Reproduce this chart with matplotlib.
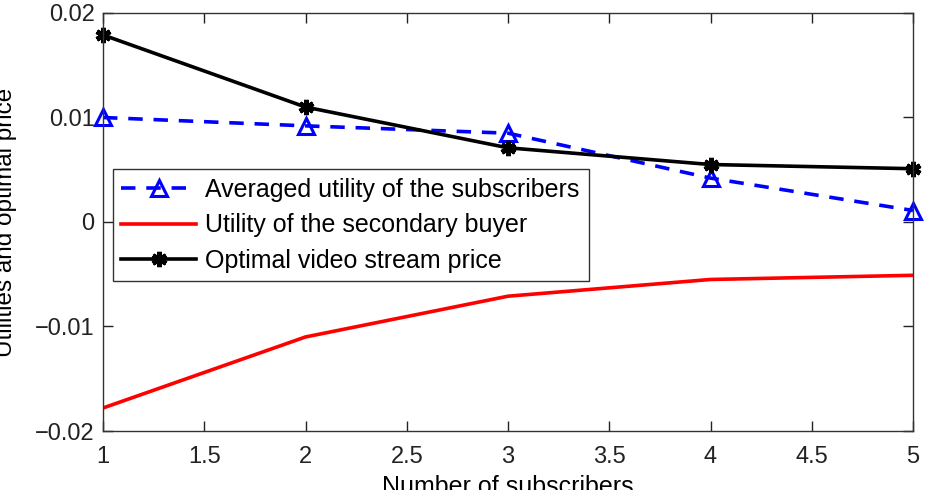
import matplotlib.pyplot as plt
from matplotlib.ticker import FuncFormatter

plt.rcParams['font.family'] = ['Liberation Sans', 'DejaVu Sans']

# Data
subscribers = [1, 2, 3, 4, 5]
avg_utility = [0.0100, 0.0092, 0.0085, 0.0042, 0.0011]
buyer_utility = [-0.0178, -0.0110, -0.0071, -0.0055, -0.0051]
stream_price = [0.0179, 0.0110, 0.0071, 0.0055, 0.0051]

fig = plt.figure(figsize=(9.3, 4.9), dpi=100)
ax = fig.add_axes([103 / 930, 59 / 490, 810 / 930, 418 / 490])

ax.plot(subscribers, avg_utility, color='#0000ff', lw=2.6, dashes=(4, 3),
        marker='^', ms=12, mew=2.2, mfc='none', clip_on=False,
        label='Averaged utility of the subscribers')
ax.plot(subscribers, buyer_utility, color='#ff0000', lw=2.6,
        label='Utility of the secondary buyer')
ax.plot(subscribers, stream_price, color='black', lw=2.6,
        marker=(6, 2, 0), ms=11, mew=3.5, clip_on=False,
        label='Optimal video stream price')

ax.set_xlim(1, 5)
ax.set_ylim(-0.02, 0.02)
ax.set_xticks([1, 1.5, 2, 2.5, 3, 3.5, 4, 4.5, 5])
ax.set_yticks([-0.02, -0.01, 0, 0.01, 0.02])
ax.xaxis.set_major_formatter(FuncFormatter(lambda v, pos: f'{v:g}'))
ax.yaxis.set_major_formatter(FuncFormatter(lambda v, pos: f'{v:g}'.replace('-', '\u2212')))
ax.tick_params(direction='in', length=7, width=1, labelsize=17, top=True, right=True,
               colors='#222222')
ax.tick_params(axis='x', pad=11)
ax.tick_params(axis='y', pad=6)
for s in ax.spines.values():
    s.set_linewidth(1)
    s.set_color('#333333')

ax.set_xlabel('Number of subscribers', fontsize=18, labelpad=5)
ax.set_ylabel('Utilities and optimal price', fontsize=17.5)
ax.yaxis.set_label_coords(-0.106, 0.5)

leg = ax.legend(loc='lower left', bbox_to_anchor=(0.012, 0.358), fontsize=18,
                handlelength=3.0, fancybox=False, framealpha=1, edgecolor='#333333',
                borderaxespad=0, borderpad=0.35, labelspacing=0.45, handletextpad=0.36)
leg.get_frame().set_linewidth(1)

fig.savefig('out.png', dpi=100)
